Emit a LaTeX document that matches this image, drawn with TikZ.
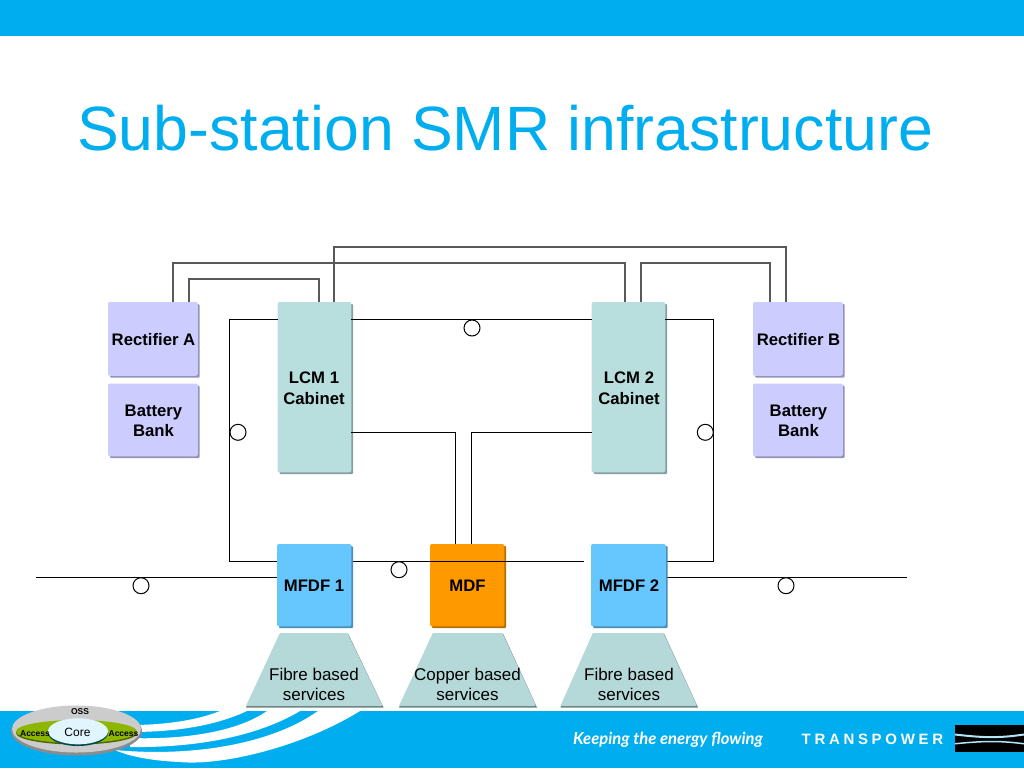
\documentclass[tikz,border=0pt]{standalone}
\usepackage{fontspec}
\setmainfont{Liberation Sans}
\newfontfamily\spaced[LetterSpace=24.5]{Liberation Sans}
\newfontfamily\slogan{Lato}
\definecolor{sky}{HTML}{00AEEF}
\definecolor{lilac}{HTML}{CCCCFF}
\definecolor{teal1}{HTML}{B8DEDE}
\definecolor{mfdf}{HTML}{66C7FF}
\definecolor{mdfc}{HTML}{FF9900}
\definecolor{acc}{HTML}{8DB600}
\tikzset{
 x=1pt,y=-1pt,
 lab/.style={font=\fontsize{16.7}{20.6}\selectfont\bfseries,align=center,text=black,inner sep=0pt},
 svc/.style={font=\fontsize{17}{20.6}\selectfont,align=center,text=black,inner sep=0pt},
 wire/.style={draw=black,line width=1.1pt},
 gwire/.style={draw=black!65,line width=1.05pt},
 ring/.style={circle,draw=black,fill=white,line width=1pt,minimum size=16pt,inner sep=0pt},
 tiny/.style={font=\fontsize{8.5}{9}\selectfont\bfseries,text=black,inner sep=0pt},
}
\newcommand{\bx}[6]{% name x1 y1 x2 y2 color
 \fill[#6!72!black,rounded corners=1pt] (#2+2,#3+2) rectangle (#4+1,#5+1);
 \fill[#6,rounded corners=2pt] (#2,#3) rectangle (#4-.7,#5-.7);
 \coordinate (#1) at ({(#2+#4)/2},{(#3+#5)/2});
}
\newcommand{\tz}[5]{% name x1 x2 tx1 tx2
 \fill[teal1!60!black] (#2,707.5) -- (#4,633.5) -- (#5,633.5) -- (#3,707.5) -- cycle;
 \fill[teal1!95!gray,rounded corners=1pt] (#2,705.8) -- (#4,633) -- (#5-0.7,633) -- (#3-1,705.8) -- cycle;
 \coordinate (#1) at ({(#2+#3)/2},670);
}
\begin{document}
\begin{tikzpicture}
\useasboundingbox (0,0) rectangle (1024,768);
\fill[white] (0,0) rectangle (1024,768);
\fill[sky] (0,0) rectangle (1024,36);
% bottom band
\fill[sky] (0,711) rectangle (1024,768);
\fill[white] (130,725) .. controls (170,725) and (200,719) .. (220,711) -- (247,711) .. controls (215,726) and (175,732) .. (130,732) -- cycle;
\fill[white] (130,738) .. controls (190,740) and (240,730) .. (267,711) -- (300,711) .. controls (260,735) and (200,748) .. (130,747) -- cycle;
\fill[white] (115,750) .. controls (190,757) and (270,745) .. (318,711) -- (360,711) .. controls (300,748) and (220,766) .. (180,762) .. controls (155,761) and (130,757) .. (115,750) -- cycle;
% power wires
\draw[gwire] (173,303) -- (173,263) -- (625,263) -- (625,303);
\draw[gwire] (189,303) -- (189,279) -- (319,279) -- (319,303);
\draw[gwire] (334,303) -- (334,247) -- (786,247) -- (786,303);
\draw[gwire] (641,303) -- (641,263) -- (770,263) -- (770,303);
% boxes
\bx{ra}{108}{302}{198.5}{376.5}{lilac}
\bx{bA}{108}{383.5}{198.5}{457}{lilac}
\bx{rb}{753}{302}{843.5}{376.5}{lilac}
\bx{bB}{753}{383.5}{843.5}{457}{lilac}
\bx{l1}{277.5}{302}{352}{473}{teal1}
\bx{l2}{591.5}{302}{666}{473}{teal1}
\bx{m0}{430}{544}{505}{627}{mdfc}
\tz{s1}{246}{383.5}{280}{348}
\tz{s2}{399}{537}{433}{503}
\tz{s3}{560.5}{698}{593}{664}
% data wires
\coordinate (w1) at (229.3,319.7); \coordinate (w2) at (229.3,561.3);
\coordinate (e1) at (713.8,319.7); \coordinate (e2) at (713.8,561.3);
\draw[wire] (278,319.7) -- (w1) -- (w2) -- (278,561.3);
\draw[wire] (351,319.7) -- (592,319.7);
\draw[wire] (665,319.7) -- (e1) -- (e2) -- (665,561.3);
\draw[wire] (351,561.3) -- (584,561.3);
\draw[wire] (351,432.3) -- (455.3,432.3) -- (455.3,544);
\draw[wire] (592,432.3) -- (471.3,432.3) -- (471.3,544);
\draw[wire] (36,577.5) -- (278,577.5);
\draw[wire] (665,577.5) -- (907,577.5);
\bx{m1}{277}{544}{352}{627}{mfdf}
\bx{m2}{591}{544}{666.5}{627}{mfdf}
\node[ring] (r1) at (472,328) {};
\node[ring] (r2) at (238,432.3) {};
\node[ring] (r3) at (705.3,432.3) {};
\node[ring] (r4) at (399,569.7) {};
\node[ring] (r5) at (141,585.7) {};
\node[ring] (r6) at (786,585.7) {};
% labels
\node[lab] (tra) at (153.5,340) {Rectifier A};
\node[lab] (tba) at (153.5,421) {Battery\\Bank};
\node[lab] (trb) at (798.5,340) {Rectifier B};
\node[lab] (tbb) at (798.5,421) {Battery\\Bank};
\node[lab] (tl1) at (314,388) {LCM 1\\Cabinet};
\node[lab] (tl2) at (629,388) {LCM 2\\Cabinet};
\node[lab] (tm1) at (314,586) {MFDF 1};
\node[lab] (tm0) at (467.5,586) {MDF};
\node[lab] (tm2) at (629,586) {MFDF 2};
\node[svc] (t1) at (314,684.5) {Fibre based\\services};
\node[svc] (t2) at (467.5,684.5) {Copper based\\services};
\node[svc] (t3) at (629,684.5) {Fibre based\\services};
\node[text=sky,font=\fontsize{62.6}{70}\selectfont,anchor=base west,inner sep=0pt] (title) at (77,150.5) {Sub-station SMR infrastructure};
% logo
\fill[black!45] (76.5,731) ellipse [x radius=65.5,y radius=24.5];
\fill[black!20] (76.5,729) ellipse [x radius=64.5,y radius=23.5];
\fill[acc!55!black] (76.5,733) ellipse [x radius=60.5,y radius=11.5];
\fill[acc] (76.5,731.5) ellipse [x radius=60.5,y radius=11.5];
\fill[teal!60!black] (78,733) ellipse [x radius=30,y radius=13];
\fill[cyan!12] (78,731.3) ellipse [x radius=30,y radius=13];
\node[tiny] (oss) at (80,712) {OSS};
\node[font=\fontsize{12}{13}\selectfont,inner sep=0pt] (core) at (77.5,732) {Core};
\node[tiny] (a1) at (35,733.5) {Access};
\node[tiny] (a2) at (123.5,733.5) {Access};
% footer
\node[text=white,font=\fontsize{16.6}{18}\slogan\bfseries\itshape,anchor=base west,inner sep=0pt] (kp) at (573,744) {Keeping the energy flowing};
\node[text=white,font=\fontsize{15}{16}\spaced\bfseries,anchor=base west,inner sep=0pt] (tp) at (801.5,744) {TRANSPOWER};
\fill[black] (955,725) rectangle (1024,752);
\fill[white!70!cyan] (955,733.5) .. controls (985,737) and (1000,737) .. (1024,733.5) -- (1024,735.5) .. controls (1000,739) and (985,739) .. (955,735.5) -- cycle;
\fill[white!70!cyan] (955,743) .. controls (985,740) and (1000,740) .. (1024,743) -- (1024,744.5) .. controls (1000,741.5) and (985,741.5) .. (955,744.5) -- cycle;
\end{tikzpicture}
\end{document}
